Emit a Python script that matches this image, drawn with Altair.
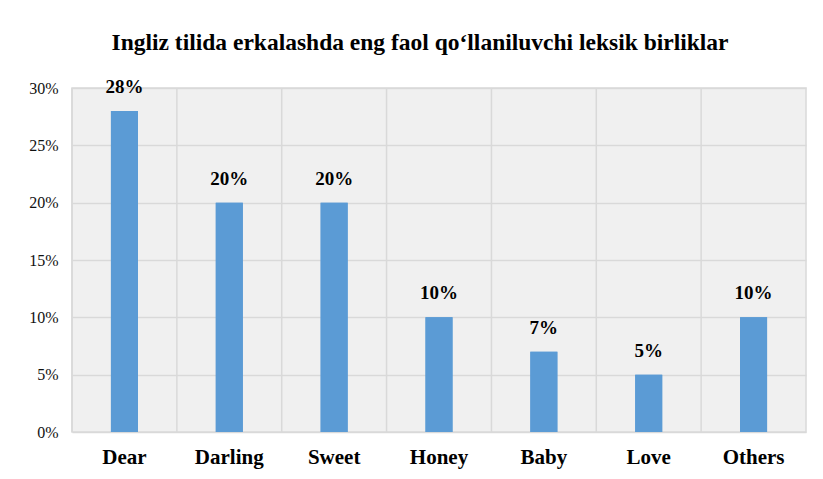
import altair as alt
import pandas as pd

categories = ["Dear", "Darling", "Sweet", "Honey", "Baby", "Love", "Others"]
values = [0.28, 0.20, 0.20, 0.10, 0.07, 0.05, 0.10]
labels = ["28%", "20%", "20%", "10%", "7%", "5%", "10%"]

df = pd.DataFrame({"cat": categories, "val": values, "lab": labels})

FONT = "Liberation Serif"

x_main = alt.X("cat:N", sort=categories, title=None,
               scale=alt.Scale(paddingInner=0, paddingOuter=0),
               axis=alt.Axis(labelAngle=0, labelFontSize=21, labelFontWeight="bold",
                             labelColor="#000000", labelPadding=14, ticks=False,
                             domain=False, grid=False, labelFont=FONT))
y_main = alt.Y("val:Q", title=None,
               scale=alt.Scale(domain=[0, 0.30]),
               axis=alt.Axis(format=".0%", values=[0, 0.05, 0.10, 0.15, 0.20, 0.25, 0.30],
                             labelFontSize=16, labelColor="#111111", labelPadding=14,
                             ticks=False, domain=False, grid=True, gridColor="#d9d9d9",
                             gridWidth=1.5, labelFont=FONT))

vgrid = alt.Chart(df).mark_rule(color="#d9d9d9", strokeWidth=1.5).encode(
    x=alt.X("cat:N", sort=categories, bandPosition=0),
)

bars = alt.Chart(df).mark_bar(size=27, color="#5b9bd5").encode(x=x_main, y=y_main)

text = alt.Chart(df).mark_text(baseline="bottom", dy=-14, fontSize=19, fontWeight="bold",
                               font=FONT, color="#000000").encode(
    x=alt.X("cat:N", sort=categories), y=alt.Y("val:Q"), text="lab:N")

chart = alt.layer(bars, vgrid, bars, text).properties(
    width=734, height=344,
    autosize=alt.AutoSizeParams(type="none"),
    title=alt.TitleParams("Ingliz tilida erkalashda eng faol qo‘llaniluvchi leksik birliklar",
                          fontSize=23.5, font=FONT, fontWeight="bold", color="#000000",
                          anchor="middle", offset=23, dx=-19),
    padding={"left": 64, "top": 80, "right": 9, "bottom": 39},
).configure(background="#ffffff",
            view=alt.ViewConfig(fill="#f0f0f0", stroke="#d9d9d9", strokeWidth=1.5))

chart.save("out.html", embed_options={"renderer": "svg", "actions": False})
